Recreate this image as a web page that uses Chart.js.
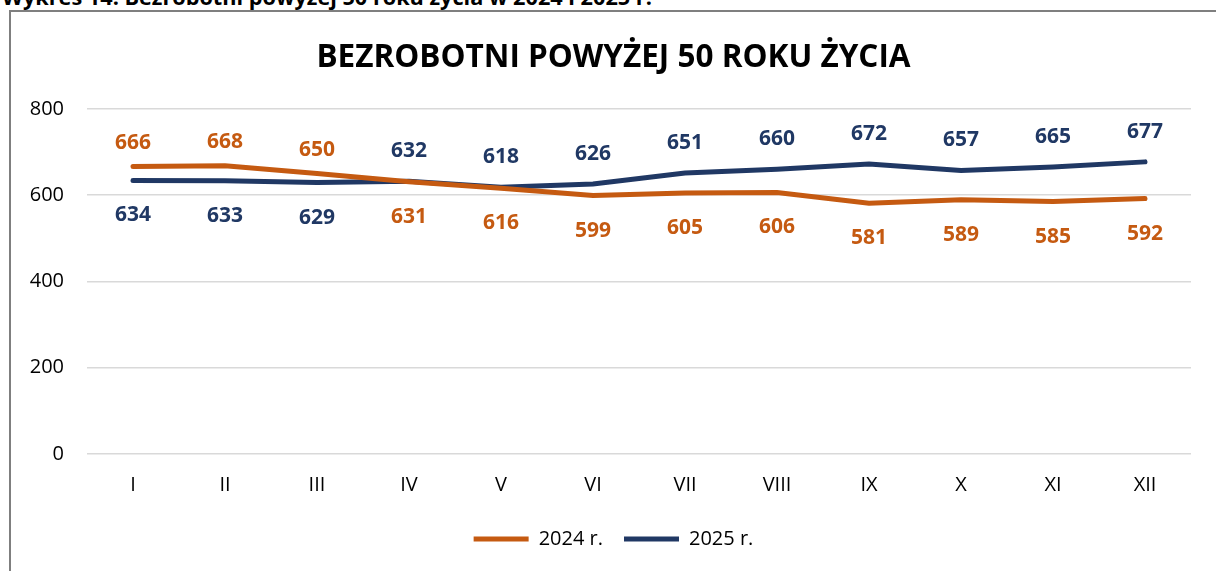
<!DOCTYPE html>
<html>
<head>
<meta charset="utf-8">
<script src="https://cdn.jsdelivr.net/npm/chart.js@4.4.1/dist/chart.umd.min.js"></script>
<style>
    body { margin: 0; background: #fff; width: 1216px; height: 571px; overflow: hidden; position: relative; font-family: 'Open Sans', sans-serif; }
    #caption { position: absolute; left: 2px; top: -14px; font: bold 21.7px 'Open Sans', sans-serif; line-height: 21px; white-space: nowrap; color: #000; }
    #box { position: absolute; left: 9px; top: 10px; width: 1207px; height: 570px; border-left: 2px solid #7f7f7f; border-top: 2px solid #7f7f7f; }
    #chartWrap { position: absolute; left: 0; top: 0; width: 1205px; height: 547px; }
</style>
</head>
<body>
<div id="caption">Wykres 14. Bezrobotni powyżej 50 roku życia w 2024 i 2025 r.</div>
<div id="box">
    <div id="chartWrap"><canvas id="chart"></canvas></div>
</div>
<script>
const months = ['I', 'II', 'III', 'IV', 'V', 'VI', 'VII', 'VIII', 'IX', 'X', 'XI', 'XII'];
const values2024 = [666, 668, 650, 631, 616, 599, 605, 606, 581, 589, 585, 592];
const values2025 = [634, 633, 629, 632, 618, 626, 651, 660, 672, 657, 665, 677];
const yTicks = [0, 200, 400, 600, 800];

const ORANGE = '#C55A11';
const NAVY = '#203864';

// Value labels: the higher series goes above its point, the lower one below
const valueLabels = {
    id: 'valueLabels',
    afterDatasetsDraw(chart) {
        const ctx = chart.ctx;
        const metaA = chart.getDatasetMeta(0);
        const metaB = chart.getDatasetMeta(1);
        ctx.save();
        ctx.font = 'bold 21px "Open Sans", sans-serif';
        ctx.textAlign = 'center';
        ctx.textBaseline = 'middle';
        months.forEach((m, i) => {
            const a = values2024[i];
            const b = values2025[i];
            const pa = metaA.data[i];
            const pb = metaB.data[i];
            const aUp = a > b;
            ctx.fillStyle = ORANGE;
            ctx.fillText(a, pa.x, aUp ? pa.y - 24 : pa.y + 35);
            ctx.fillStyle = NAVY;
            ctx.fillText(b, pb.x, aUp ? pb.y + 35 : pb.y - 30);
        });
        ctx.restore();
    }
};

const ctx = document.getElementById('chart').getContext('2d');
new Chart(ctx, {
    type: 'line',
    data: {
        labels: months,
        datasets: [
            {
                label: '2024 r.',
                data: values2024,
                borderColor: ORANGE,
                backgroundColor: ORANGE,
                borderWidth: 5,
                borderCapStyle: 'round',
                pointRadius: 0,
                tension: 0
            },
            {
                label: '2025 r.',
                data: values2025,
                borderColor: NAVY,
                backgroundColor: NAVY,
                borderWidth: 5,
                borderCapStyle: 'round',
                pointRadius: 0,
                tension: 0
            }
        ]
    },
    options: {
        responsive: true,
        maintainAspectRatio: false,
        animation: false,
        layout: { padding: 0 },
        plugins: {
            title: {
                display: true,
                text: 'BEZROBOTNI POWYŻEJ 50 ROKU ŻYCIA',
                color: '#000',
                font: { family: 'Open Sans', size: 31.5, weight: 'bold' },
                padding: { top: 27, bottom: 32 }
            },
            legend: {
                position: 'bottom',
                labels: {
                    usePointStyle: true,
                    pointStyle: 'line',
                    pointStyleWidth: 55,
                    color: '#000',
                    font: { family: 'Open Sans', size: 20 },
                    padding: 21
                }
            },
            tooltip: { enabled: false }
        },
        scales: {
            x: {
                offset: true,
                grid: { display: false },
                border: { display: false },
                ticks: { color: '#000', font: { family: 'Open Sans', size: 20 }, padding: 11 }
            },
            y: {
                min: 0,
                max: 800,
                afterBuildTicks(scale) {
                    scale.ticks = yTicks.map(v => ({ value: v }));
                },
                afterFit(scale) {
                    scale.width = 76;
                },
                grid: { color: '#d9d9d9', lineWidth: 1.5, drawTicks: false },
                border: { display: false },
                ticks: { color: '#000', font: { family: 'Open Sans', size: 20 }, padding: 23 }
            },
            // empty right-hand margin so the plot stops short of the edge
            yRight: {
                position: 'right',
                grid: { display: false },
                border: { display: false },
                ticks: { display: false },
                afterFit(scale) {
                    scale.width = 25;
                }
            }
        }
    },
    plugins: [valueLabels]
});
</script>
</body>
</html>
